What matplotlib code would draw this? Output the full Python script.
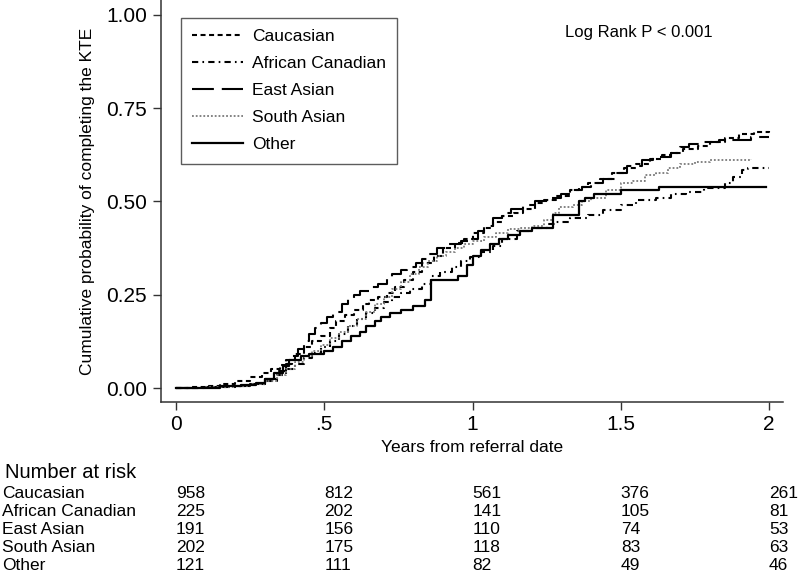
import matplotlib
matplotlib.use("Agg")
import matplotlib.pyplot as plt
from matplotlib.transforms import blended_transform_factory

plt.rcParams["font.family"] = ["Liberation Sans", "DejaVu Sans"]

# Kaplan-Meier style cumulative incidence (step knots)
cauc_t = [0, 0.05, 0.1, 0.15, 0.2, 0.25, 0.29, 0.32, 0.35, 0.37, 0.40, 0.43, 0.46, 0.49, 0.52,
          0.54, 0.57, 0.60, 0.63, 0.65, 0.68, 0.71, 0.74, 0.77, 0.80, 0.83, 0.87, 0.90, 0.94,
          0.97, 1.00, 1.04, 1.07, 1.10, 1.14, 1.17, 1.21, 1.24, 1.28, 1.33, 1.36, 1.39, 1.43,
          1.47, 1.51, 1.55, 1.60, 1.64, 1.67, 1.71, 1.76, 1.80, 1.85, 1.90, 1.95, 2.0]
cauc_v = [0, 0.002, 0.005, 0.01, 0.018, 0.03, 0.04, 0.05, 0.063, 0.075, 0.092, 0.11, 0.125,
          0.14, 0.16, 0.18, 0.195, 0.21, 0.225, 0.235, 0.245, 0.255, 0.27, 0.29, 0.31, 0.335,
          0.355, 0.375, 0.39, 0.40, 0.415, 0.43, 0.445, 0.46, 0.47, 0.48, 0.495, 0.505, 0.515,
          0.53, 0.54, 0.55, 0.56, 0.575, 0.59, 0.60, 0.615, 0.625, 0.63, 0.64, 0.65, 0.66, 0.67,
          0.68, 0.685, 0.69]

afr_t = [0, 0.1, 0.2, 0.25, 0.3, 0.34, 0.37, 0.40, 0.43, 0.46, 0.49, 0.52, 0.55, 0.58, 0.61,
         0.64, 0.67, 0.70, 0.73, 0.76, 0.79, 0.83, 0.86, 0.89, 0.93, 0.96, 0.99, 1.03, 1.07,
         1.10, 1.15, 1.20, 1.25, 1.28, 1.33, 1.39, 1.44, 1.50, 1.55, 1.62, 1.67, 1.72, 1.78,
         1.85, 1.88, 1.91, 1.93, 2.0]
afr_v = [0, 0.002, 0.005, 0.01, 0.02, 0.035, 0.05, 0.065, 0.08, 0.095, 0.11, 0.125, 0.145,
         0.165, 0.185, 0.20, 0.215, 0.23, 0.245, 0.255, 0.265, 0.28, 0.30, 0.31, 0.325, 0.34,
         0.35, 0.365, 0.38, 0.40, 0.42, 0.43, 0.44, 0.445, 0.455, 0.465, 0.477, 0.49, 0.505,
         0.51, 0.52, 0.525, 0.535, 0.55, 0.565, 0.585, 0.59, 0.59]

east_t = [0, 0.1, 0.2, 0.25, 0.3, 0.34, 0.37, 0.39, 0.41, 0.43, 0.45, 0.47, 0.49, 0.51, 0.53,
          0.56, 0.58, 0.60, 0.62, 0.65, 0.68, 0.71, 0.73, 0.76, 0.78, 0.81, 0.83, 0.85, 0.88,
          0.92, 0.96, 0.99, 1.02, 1.04, 1.07, 1.10, 1.13, 1.17, 1.21, 1.26, 1.30, 1.33, 1.37,
          1.40, 1.44, 1.48, 1.52, 1.57, 1.61, 1.67, 1.70, 1.73, 1.78, 1.83, 1.94, 2.0]
east_v = [0, 0.003, 0.006, 0.012, 0.025, 0.045, 0.065, 0.085, 0.105, 0.125, 0.145, 0.16, 0.175,
          0.19, 0.205, 0.225, 0.24, 0.25, 0.26, 0.27, 0.28, 0.295, 0.305, 0.315, 0.325, 0.335,
          0.345, 0.36, 0.375, 0.385, 0.395, 0.40, 0.42, 0.435, 0.455, 0.47, 0.48, 0.49, 0.50,
          0.51, 0.52, 0.53, 0.54, 0.55, 0.56, 0.575, 0.595, 0.61, 0.62, 0.63, 0.645, 0.655,
          0.66, 0.665, 0.672, 0.672]

south_t = [0, 0.1, 0.2, 0.25, 0.3, 0.34, 0.37, 0.40, 0.43, 0.46, 0.49, 0.52, 0.55, 0.58, 0.61,
           0.64, 0.67, 0.70, 0.73, 0.76, 0.79, 0.82, 0.85, 0.88, 0.91, 0.94, 0.97, 1.00, 1.04,
           1.08, 1.12, 1.16, 1.20, 1.24, 1.27, 1.29, 1.34, 1.37, 1.40, 1.45, 1.50, 1.54, 1.58,
           1.62, 1.66, 1.70, 1.75, 1.80, 1.94]
south_v = [0, 0.002, 0.005, 0.01, 0.02, 0.035, 0.05, 0.07, 0.085, 0.10, 0.115, 0.135, 0.15,
           0.165, 0.185, 0.205, 0.225, 0.245, 0.265, 0.285, 0.305, 0.325, 0.34, 0.355, 0.365,
           0.375, 0.385, 0.395, 0.405, 0.415, 0.425, 0.43, 0.435, 0.45, 0.47, 0.485, 0.49, 0.50,
           0.51, 0.53, 0.55, 0.555, 0.57, 0.575, 0.59, 0.60, 0.605, 0.61, 0.615]

other_t = [0, 0.15, 0.22, 0.27, 0.30, 0.33, 0.36, 0.38, 0.42, 0.45, 0.50, 0.53, 0.56, 0.59, 0.62,
           0.64, 0.67, 0.69, 0.72, 0.76, 0.80, 0.84, 0.86, 0.95, 0.98, 1.00, 1.03, 1.06, 1.09,
           1.12, 1.16, 1.20, 1.27, 1.36, 1.38, 1.41, 1.50, 1.63, 1.99]
other_v = [0, 0.005, 0.008, 0.013, 0.025, 0.04, 0.06, 0.075, 0.085, 0.09, 0.10, 0.11, 0.125,
           0.14, 0.15, 0.165, 0.18, 0.19, 0.20, 0.21, 0.22, 0.235, 0.29, 0.30, 0.33, 0.355,
           0.37, 0.385, 0.40, 0.41, 0.42, 0.43, 0.465, 0.50, 0.51, 0.52, 0.53, 0.54, 0.54]

groups = ["Caucasian", "African Canadian", "East Asian", "South Asian", "Other"]
risk_times = [0, 0.5, 1, 1.5, 2]
risk_cauc = [958, 812, 561, 376, 261]
risk_afr = [225, 202, 141, 105, 81]
risk_east = [191, 156, 110, 74, 53]
risk_south = [202, 175, 118, 83, 63]
risk_other = [121, 111, 82, 49, 46]

curves = [(cauc_t, cauc_v), (afr_t, afr_v), (east_t, east_v), (south_t, south_v), (other_t, other_v)]
styles = [
    dict(color="black", lw=1.5, ls=(0, (2.4, 1.7))),
    dict(color="black", lw=1.5, ls=(0, (3, 2, 0.8, 2))),
    dict(color="black", lw=1.5, ls=(0, (10.5, 3.8))),
    dict(color="#7a7a7a", lw=1.3, ls=(0, (1, 1.1))),
    dict(color="black", lw=1.6, ls="-"),
]

W, H = 800, 583
fig = plt.figure(figsize=(8, 5.83), dpi=100)
ax = fig.add_axes([161 / W, 1 - 402 / H, 622 / W, 402 / H])

for name, (t, v), st in zip(groups, curves, styles):
    ax.step(t, v, where="post", label=name, **st)

ax.set_xlim(-0.0506, 2.047)
ax.set_ylim(-0.0375, 1.040)
ax.set_xticks([0, 0.5, 1, 1.5, 2])
ax.set_xticklabels(["0", ".5", "1", "1.5", "2"])
ax.set_yticks([0, 0.25, 0.5, 0.75, 1.0])
ax.set_yticklabels(["0.00", "0.25", "0.50", "0.75", "1.00"])
ax.tick_params(axis="both", labelsize=15, length=6, width=1, direction="out", color="#333333")
ax.tick_params(axis="y", pad=4)
ax.tick_params(axis="x", pad=3)
for s in ["top", "right"]:
    ax.spines[s].set_visible(False)
for s in ["left", "bottom"]:
    ax.spines[s].set_linewidth(1.1)
    ax.spines[s].set_color("#333333")

ax.set_xlabel("Years from referral date", fontsize=12.5, labelpad=5)
ax.set_ylabel("Cumulative probability of completing the KTE", fontsize=12.5, labelpad=8)

leg = ax.legend(loc="upper left", bbox_to_anchor=(20 / 622, 1 - 18 / 402), fontsize=12.5,
                frameon=True, fancybox=False, handlelength=2.9, handletextpad=0.55,
                labelspacing=0.68, borderpad=0.65, borderaxespad=0)
leg.get_frame().set_edgecolor("#333333")
leg.get_frame().set_linewidth(1.0)

fig.text(639 / W, 1 - 33 / H, "Log Rank P < 0.001", fontsize=12, ha="center", va="center")

# number at risk table
tr = blended_transform_factory(ax.transData, fig.transFigure)
fig.text(5 / W, 1 - 473 / H, "Number at risk", fontsize=14.5, ha="left", va="center")
risk_rows = [risk_cauc, risk_afr, risk_east, risk_south, risk_other]
row_y = [494, 512, 530, 548, 566]
for name, row, yp in zip(groups, risk_rows, row_y):
    fig.text(2 / W, 1 - yp / H, name, fontsize=12.5, ha="left", va="center")
    for xt, n in zip(risk_times, row):
        ax.text(xt, 1 - yp / H, str(n), fontsize=12.5, ha="left", va="center",
                transform=tr, clip_on=False)

fig.savefig("out.png", dpi=100)
